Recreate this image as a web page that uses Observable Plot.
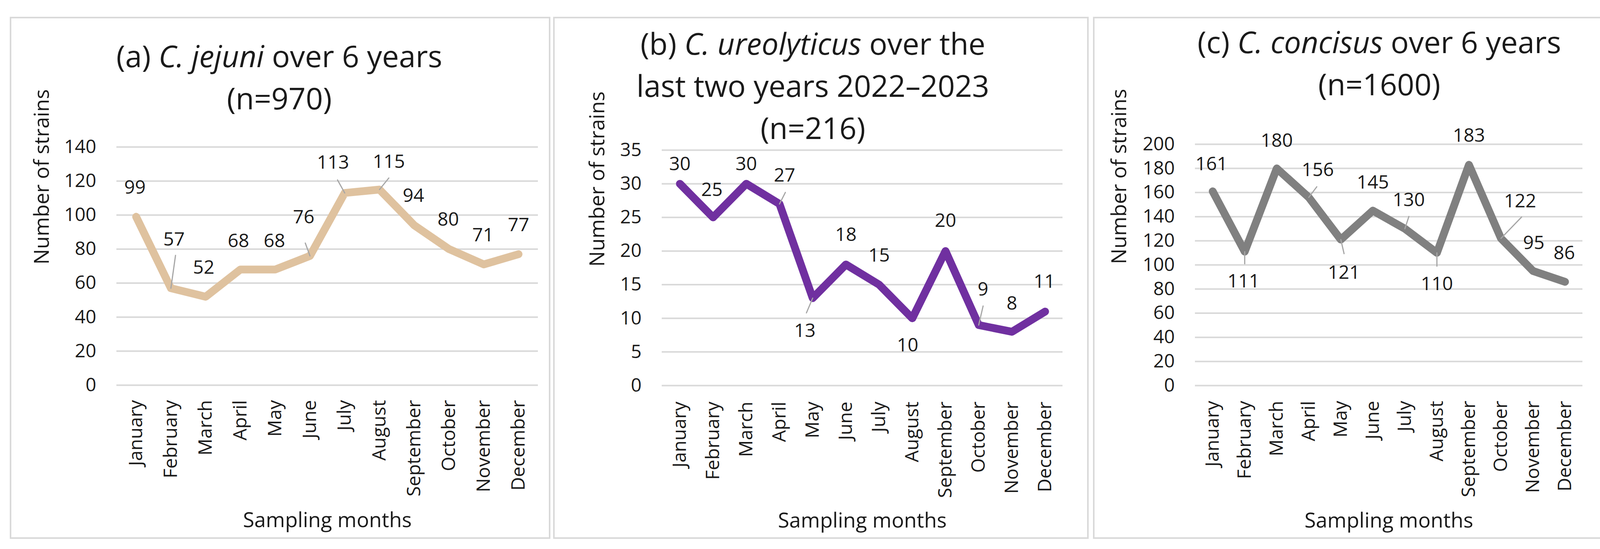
<!DOCTYPE html>
<html>
<head>
<meta charset="utf-8">
<script src="https://cdn.jsdelivr.net/npm/d3@7"></script>
<script src="https://cdn.jsdelivr.net/npm/@observablehq/plot@0.6"></script>
<style>
html, body { margin: 0; padding: 0; background: #fff; }
#page { position: relative; width: 4130px; height: 1406px; overflow: hidden; font-family: "Open Sans", sans-serif; background: #fff; }
.panel { position: absolute; box-sizing: border-box; border: 4px solid #D9D9D9; background: #fff; }
.title { position: absolute; width: 1400px; text-align: center; font-size: 77px; line-height: 108px; color: #1a1a1a; white-space: nowrap; }
.chart { position: absolute; }
</style>
</head>
<body>
<div id="page"></div>
<script>
// ---- data ----
const months = ["January", "February", "March", "April", "May", "June", "July", "August", "September", "October", "November", "December"];
const jejuniCounts = [99, 57, 52, 68, 68, 76, 113, 115, 94, 80, 71, 77];
const ureolyticusCounts = [30, 25, 30, 27, 13, 18, 15, 10, 20, 9, 8, 11];
const concisusCounts = [161, 111, 180, 156, 121, 145, 130, 110, 183, 122, 95, 86];
const jejuniTicks = [0, 20, 40, 60, 80, 100, 120, 140];
const ureolyticusTicks = [0, 5, 10, 15, 20, 25, 30, 35];
const concisusTicks = [0, 20, 40, 60, 80, 100, 120, 140, 160, 180, 200];
const yTitle = "Number of strains";
const xTitle = "Sampling months";

// ---- layout / style ----
const textColor = "#1a1a1a";
const panels = [
  {
    values: jejuniCounts, ticks: jejuniTicks, yMax: 140, color: "#DFC29F",
    box: {left: 25, top: 43, width: 1384, height: 1337},
    svg: {left: 29, top: 47, width: 1376, height: 1329},
    margin: {top: 329, right: 28, bottom: 390, left: 269},
    title: ["(a) <i>C. jejuni</i> over 6 years", "(n=970)"], titleTop: 89, titleCenter: 715,
    yTitleDx: -190, yTitleDy: -4, xTickPad: 38,
    labelOffsets: [[-3,-75],[8,-125],[-5,-74],[-5,-73],[-2,-73],[-16,-99],[-30,-78],[24,-71],[-2,-75],[-2,-75],[-2,-75],[0,-74]],
    leaders: [null,[85,8],null,null,null,[35,-20],[38,-29],[38,39],null,null,null,null]
  },
  {
    values: ureolyticusCounts, ticks: ureolyticusTicks, yMax: 35, color: "#7030A0",
    box: {left: 1416, top: 43, width: 1371, height: 1337},
    svg: {left: 1420, top: 47, width: 1363, height: 1329},
    margin: {top: 337, right: 63, bottom: 389, left: 274},
    title: ["(b) <i>C. ureolyticus</i> over the", "last two years 2022–2023", "(n=216)"], titleTop: 57, titleCenter: 2081,
    yTitleDx: -164, yTitleDy: -3, xTickPad: 41,
    labelOffsets: [[0,-50],[-3,-70],[0,-50],[13,-73],[-20,84],[0,-76],[0,-74],[-12,69],[0,-77],[11,-91],[0,-72],[-2,-76]],
    leaders: [null,null,null,[33,27],[41,203],null,null,null,null,[50,13],null,null]
  },
  {
    values: concisusCounts, ticks: concisusTicks, yMax: 200, color: "#808080",
    box: {left: 2798, top: 43, width: 1309, height: 1337},
    svg: {left: 2802, top: 47, width: 1301, height: 1329},
    margin: {top: 322, right: 52, bottom: 389, left: 257},
    title: ["(c) <i>C. concisus</i> over 6 years", "(n=1600)"], titleTop: 53, titleCenter: 3531,
    yTitleDx: -193, yTitleDy: -2, xTickPad: 39,
    labelOffsets: [[-3,-69],[-3,76],[0,-71],[23,-70],[8,85],[0,-72],[10,-73],[0,80],[0,-74],[49,-95],[2,-71],[-2,-73]],
    leaders: [null,[31,180],null,[34,37],[37,167],null,[33,18],[34,180],null,[76,44],null,null]
  }
];

const leaderShape = {
  draw(context, l) { context.moveTo(0, 0); context.lineTo(0, -l); }
};

const page = document.getElementById("page");

for (const p of panels) {
  const box = document.createElement("div");
  box.className = "panel";
  Object.assign(box.style, {left: p.box.left + "px", top: p.box.top + "px", width: p.box.width + "px", height: p.box.height + "px"});
  page.appendChild(box);

  const rows = months.map((m, i) => ({month: m, count: p.values[i]}));

  const labelMarks = rows.map((r, i) => Plot.text([r], {
    x: "month", y: "count", text: d => String(d.count),
    dx: p.labelOffsets[i][0], dy: p.labelOffsets[i][1],
    fontSize: 48, lineAnchor: "middle", fill: textColor
  }));
  const leaderMarks = rows.flatMap((r, i) => p.leaders[i] ? [Plot.vector([r], {
    x: "month", y: "count", length: p.leaders[i][0], rotate: p.leaders[i][1],
    anchor: "start", shape: leaderShape, stroke: "#A6A6A6", strokeWidth: 3
  })] : []);

  const chart = Plot.plot({
    width: p.svg.width,
    height: p.svg.height,
    marginTop: p.margin.top,
    marginRight: p.margin.right,
    marginBottom: p.margin.bottom,
    marginLeft: p.margin.left,
    style: {fontFamily: "Open Sans, sans-serif", background: "transparent", color: textColor, maxWidth: "none", overflow: "visible"},
    x: {type: "point", domain: months, padding: 0.5},
    y: {domain: [0, p.yMax]},
    marks: [
      Plot.gridY(p.ticks, {stroke: "#D9D9D9", strokeOpacity: 1, strokeWidth: 4}),
      Plot.axisY({ticks: p.ticks, tickSize: 0, tickPadding: 52, fontSize: 48, label: null, tickFormat: d => String(d)}),
      Plot.axisX({tickRotate: -90, tickSize: 0, tickPadding: p.xTickPad, textAnchor: "end", lineAnchor: "middle", fontSize: 48, label: null}),
      Plot.line(rows, {x: "month", y: "count", stroke: p.color, strokeWidth: 20, strokeLinejoin: "round", strokeLinecap: "round"}),
      ...leaderMarks,
      ...labelMarks,
      Plot.text([yTitle], {text: d => d, frameAnchor: "left", rotate: -90, dx: p.yTitleDx, dy: p.yTitleDy, fontSize: 53, lineAnchor: "middle", fill: textColor}),
      Plot.text([xTitle], {text: d => d, frameAnchor: "bottom", dy: 347, fontSize: 53, lineAnchor: "middle", fill: textColor})
    ]
  });
  chart.classList.add("chart");
  chart.style.position = "absolute";
  chart.style.left = p.svg.left + "px";
  chart.style.top = p.svg.top + "px";
  page.appendChild(chart);

  const t = document.createElement("div");
  t.className = "title";
  t.style.left = (p.titleCenter - 700) + "px";
  t.style.top = p.titleTop + "px";
  t.innerHTML = p.title.join("<br>");
  page.appendChild(t);
}
</script>
</body>
</html>
